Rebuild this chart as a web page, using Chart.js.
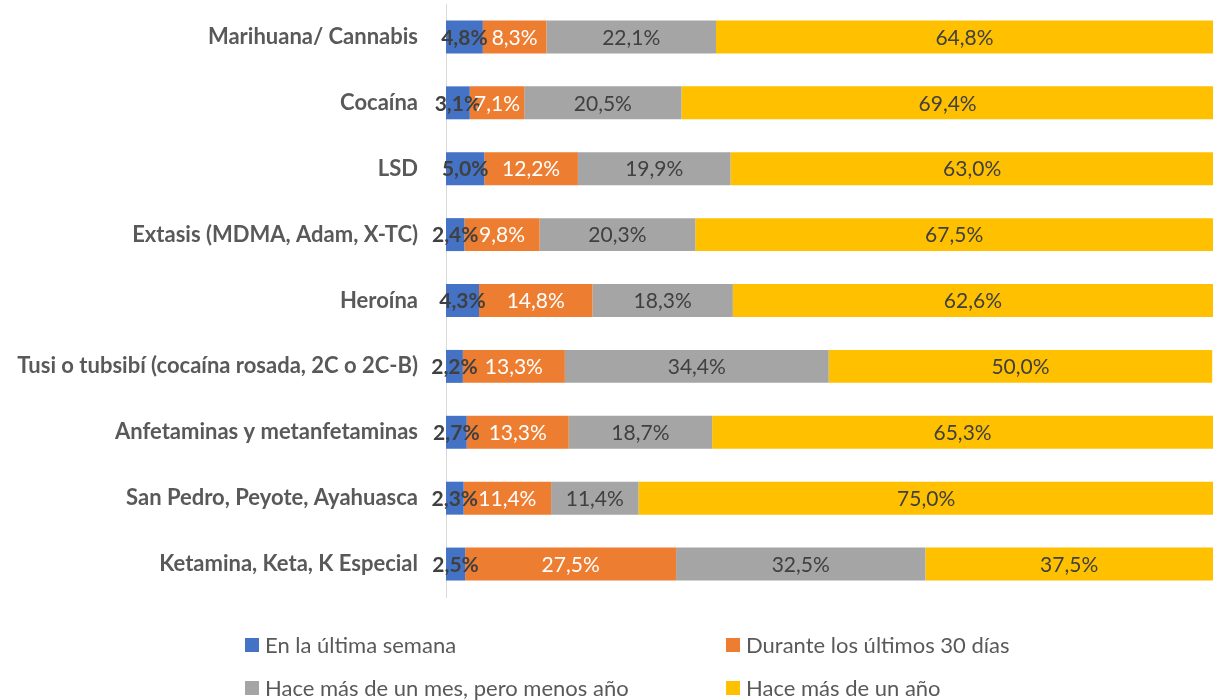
<!DOCTYPE html>
<html>
<head>
<meta charset="utf-8">
<script src="https://cdn.jsdelivr.net/npm/chart.js@4.4.1/dist/chart.umd.min.js"></script>
<style>
  html, body { margin: 0; padding: 0; background: #ffffff; }
  #wrap { width: 1217px; height: 700px; position: relative; }
</style>
</head>
<body>
<div id="wrap"><canvas id="chart"></canvas></div>
<script>
// Substances surveyed
const categories = [
  'Marihuana/ Cannabis',
  'Cocaína',
  'LSD',
  'Extasis (MDMA, Adam, X-TC)',
  'Heroína',
  'Tusi o tubsibí (cocaína rosada, 2C o 2C-B)',
  'Anfetaminas y metanfetaminas',
  'San Pedro, Peyote, Ayahuasca',
  'Ketamina, Keta, K Especial'
];

// Share of respondents by time of last use (%)
const ultimaSemana   = [4.8, 3.1, 5.0, 2.4, 4.3, 2.2, 2.7, 2.3, 2.5];
const ultimos30Dias  = [8.3, 7.1, 12.2, 9.8, 14.8, 13.3, 13.3, 11.4, 27.5];
const masDeUnMes     = [22.1, 20.5, 19.9, 20.3, 18.3, 34.4, 18.7, 11.4, 32.5];
const masDeUnAnio    = [64.8, 69.4, 63.0, 67.5, 62.6, 50.0, 65.3, 75.0, 37.5];

const seriesNames = [
  'En la última semana',
  'Durante los últimos 30 días',
  'Hace más de un mes, pero menos año',
  'Hace más de un año'
];

const COLORS = ['#4472C4', '#ED7D31', '#A5A5A5', '#FFC000'];
const LABEL_COLORS = ['#404040', '#FFFFFF', '#404040', '#404040'];
const LABEL_WEIGHTS = ['bold', 'normal', 'normal', 'normal'];
const FONT = 'Lato, "Open Sans", sans-serif';

const fmt = v => v.toFixed(1).replace('.', ',') + '%';

// Value labels centred on each bar segment
const segmentLabels = {
  id: 'segmentLabels',
  afterDatasetsDraw(chart) {
    const ctx = chart.ctx;
    ctx.save();
    ctx.textAlign = 'center';
    ctx.textBaseline = 'middle';
    chart.data.datasets.forEach((ds, i) => {
      const meta = chart.getDatasetMeta(i);
      ctx.font = LABEL_WEIGHTS[i] + ' 21px ' + FONT;
      ctx.fillStyle = LABEL_COLORS[i];
      meta.data.forEach((bar, j) => {
        const cx = (bar.x + bar.base) / 2;
        ctx.fillText(fmt(ds.data[j]), cx, bar.y + 1);
      });
    });
    ctx.restore();
  }
};

// Two-column legend under the plot
const gridLegend = {
  id: 'gridLegend',
  afterDraw(chart) {
    const ctx = chart.ctx;
    const cols = [245, 726];
    const rows = [645, 688];
    ctx.save();
    ctx.font = '22px ' + FONT;
    ctx.textBaseline = 'middle';
    ctx.textAlign = 'left';
    chart.data.datasets.forEach((ds, i) => {
      const x = cols[i % 2];
      const y = rows[Math.floor(i / 2)];
      ctx.fillStyle = ds.backgroundColor;
      ctx.fillRect(x, y - 7, 14, 14);
      ctx.fillStyle = '#595959';
      ctx.fillText(ds.label, x + 20, y + 1);
    });
    ctx.restore();
  }
};

const seriesData = [ultimaSemana, ultimos30Dias, masDeUnMes, masDeUnAnio];

new Chart(document.getElementById('chart'), {
  type: 'bar',
  data: {
    labels: categories,
    datasets: seriesData.map((d, i) => ({
      label: seriesNames[i],
      data: d,
      backgroundColor: COLORS[i],
      borderWidth: 0,
      barPercentage: 0.5,
      categoryPercentage: 1.0
    }))
  },
  options: {
    indexAxis: 'y',
    responsive: true,
    maintainAspectRatio: false,
    animation: false,
    layout: { padding: { top: 4, right: 4, bottom: 103, left: 0 } },
    plugins: {
      legend: { display: false },
      tooltip: { enabled: false }
    },
    scales: {
      x: {
        stacked: true,
        min: 0,
        max: 100,
        display: false
      },
      y: {
        stacked: true,
        grid: { display: false },
        border: { display: true, color: '#D9D9D9', width: 1 },
        ticks: {
          color: '#595959',
          padding: 20,
          font: { family: FONT, size: 22, weight: 'bold' }
        },
        afterFit(scale) {
          scale.width = 446;
          scale.paddingTop = 0;
          scale.paddingBottom = 0;
        }
      }
    }
  },
  plugins: [segmentLabels, gridLegend]
});
</script>
</body>
</html>
